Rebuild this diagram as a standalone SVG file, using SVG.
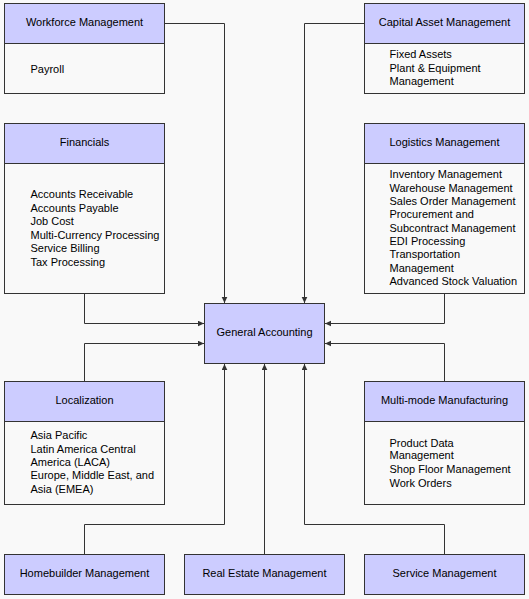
<svg xmlns="http://www.w3.org/2000/svg" width="529" height="599" viewBox="0 0 529 599">
<defs>
<style>
.hd{fill:#ccccff;stroke:#333333;stroke-width:1}
.bd{fill:#f9f9f9;stroke:#333333;stroke-width:1}
text{font-family:"Liberation Sans",Arial,sans-serif;font-size:11px;fill:#000000}
.c{text-anchor:middle}
.ln{fill:none;stroke:#333333;stroke-width:1}
</style>
<marker id="ar" markerUnits="userSpaceOnUse" markerWidth="7" markerHeight="7" refX="6" refY="3" orient="auto">
<path d="M0,0.2 L6,3 L0,5.8 z" fill="#333333"/>
</marker>
</defs>
<rect x="0" y="0" width="529" height="599" fill="#f9f9f9"/>

<g id="connectors">
<path class="ln" d="M164.5 23.5 H224.5 V303" marker-end="url(#ar)"/>
<path class="ln" d="M364.5 23.5 H304.5 V303" marker-end="url(#ar)"/>
<path class="ln" d="M84.5 293.5 V323.5 H204" marker-end="url(#ar)"/>
<path class="ln" d="M84.5 381.5 V343.5 H204" marker-end="url(#ar)"/>
<path class="ln" d="M444.5 293.5 V323.5 H325" marker-end="url(#ar)"/>
<path class="ln" d="M444.5 381.5 V343.5 H325" marker-end="url(#ar)"/>
<path class="ln" d="M84.5 554.5 V524.5 H224.5 V364" marker-end="url(#ar)"/>
<path class="ln" d="M264.5 554.5 V364" marker-end="url(#ar)"/>
<path class="ln" d="M444.5 554.5 V524.5 H304.5 V364" marker-end="url(#ar)"/>
</g>

<g id="workforce">
<rect class="bd" x="4.5" y="43.5" width="160" height="50"/>
<rect class="hd" x="4.5" y="3.5" width="160" height="40"/>
<text class="c" x="84.5" y="26">Workforce Management</text>
<text x="30.5" y="72.5">Payroll</text>
</g>

<g id="capital-asset">
<rect class="bd" x="364.5" y="43.5" width="160" height="50"/>
<rect class="hd" x="364.5" y="3.5" width="160" height="40"/>
<text class="c" x="444.5" y="26">Capital Asset Management</text>
<text x="389.5" y="58">Fixed Assets</text>
<text x="389.5" y="71.5">Plant &amp; Equipment</text>
<text x="389.5" y="85">Management</text>
</g>

<g id="financials">
<rect class="bd" x="4.5" y="163.5" width="160" height="130"/>
<rect class="hd" x="4.5" y="123.5" width="160" height="40"/>
<text class="c" x="84.5" y="146">Financials</text>
<text x="30.5" y="198">Accounts Receivable</text>
<text x="30.5" y="211.5">Accounts Payable</text>
<text x="30.5" y="225">Job Cost</text>
<text x="30.5" y="238.5">Multi-Currency Processing</text>
<text x="30.5" y="252">Service Billing</text>
<text x="30.5" y="265.5">Tax Processing</text>
</g>

<g id="logistics">
<rect class="bd" x="364.5" y="163.5" width="160" height="130"/>
<rect class="hd" x="364.5" y="123.5" width="160" height="40"/>
<text class="c" x="444.5" y="146">Logistics Management</text>
<text x="389.5" y="178">Inventory Management</text>
<text x="389.5" y="191.5">Warehouse Management</text>
<text x="389.5" y="205">Sales Order Management</text>
<text x="389.5" y="218">Procurement and</text>
<text x="389.5" y="231.5">Subcontract Management</text>
<text x="389.5" y="245">EDI Processing</text>
<text x="389.5" y="258">Transportation</text>
<text x="389.5" y="271.5">Management</text>
<text x="389.5" y="285">Advanced Stock Valuation</text>
</g>

<g id="general-accounting">
<rect class="hd" x="204.5" y="303.5" width="120" height="60"/>
<text class="c" x="264.5" y="336">General Accounting</text>
</g>

<g id="localization">
<rect class="bd" x="4.5" y="421.5" width="160" height="83"/>
<rect class="hd" x="4.5" y="381.5" width="160" height="40"/>
<text class="c" x="84.5" y="404">Localization</text>
<text x="30.5" y="439">Asia Pacific</text>
<text x="30.5" y="452.5">Latin America Central</text>
<text x="30.5" y="466">America (LACA)</text>
<text x="30.5" y="479">Europe, Middle East, and</text>
<text x="30.5" y="492.5">Asia (EMEA)</text>
</g>

<g id="multi-mode">
<rect class="bd" x="364.5" y="421.5" width="160" height="83"/>
<rect class="hd" x="364.5" y="381.5" width="160" height="40"/>
<text class="c" x="444.5" y="404">Multi-mode Manufacturing</text>
<text x="389.5" y="446.5">Product Data</text>
<text x="389.5" y="459">Management</text>
<text x="389.5" y="472.5">Shop Floor Management</text>
<text x="389.5" y="486.5">Work Orders</text>
</g>

<g id="homebuilder">
<rect class="hd" x="4.5" y="554.5" width="160" height="40"/>
<text class="c" x="84.5" y="577">Homebuilder Management</text>
</g>

<g id="real-estate">
<rect class="hd" x="184.5" y="554.5" width="160" height="40"/>
<text class="c" x="264.5" y="577">Real Estate Management</text>
</g>

<g id="service">
<rect class="hd" x="364.5" y="554.5" width="160" height="40"/>
<text class="c" x="444.5" y="577">Service Management</text>
</g>
</svg>
